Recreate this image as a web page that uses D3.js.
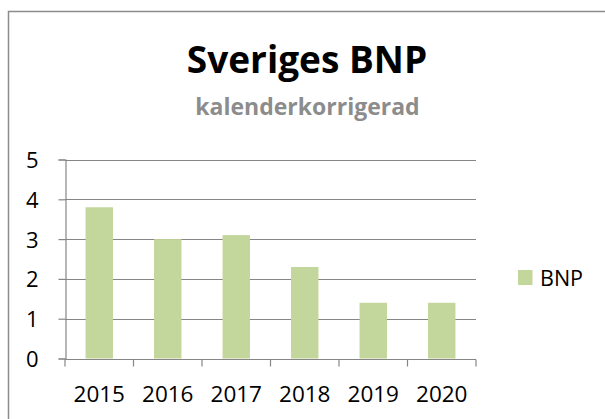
<!DOCTYPE html>
<html>
<head>
<meta charset="utf-8">
<script src="https://cdn.jsdelivr.net/npm/d3@7"></script>
<style>
  body { margin: 0; background: #fff; }
  text { font-family: "Open Sans", sans-serif; }
</style>
</head>
<body>
<div id="chart"></div>
<script>
// data
const years = ['2015', '2016', '2017', '2018', '2019', '2020']
const bnp = [3.8, 3.0, 3.1, 2.3, 1.4, 1.4]
const yTicks = [0, 1, 2, 3, 4, 5]
const seriesName = 'BNP'

const width = 605
const height = 419
const plot = { left: 65, right: 476, top: 159.5, bottom: 358.5 }
const gray = '#868686'
const barColor = '#c3d69b'

const svg = d3.select('#chart')
    .append('svg')
        .attr('width', width)
        .attr('height', height)

// outer chart frame (runs off the right and bottom edges)
svg.append('rect')
    .attr('x', 8.5)
    .attr('y', 11.5)
    .attr('width', 620)
    .attr('height', 430)
    .attr('fill', '#fff')
    .attr('stroke', '#8c8c8c')
    .attr('stroke-width', 1.5)

svg.append('text')
    .attr('x', 307)
    .attr('y', 73)
    .attr('text-anchor', 'middle')
    .style('font-weight', 'bold')
    .style('font-size', '37px')
    .text('Sveriges BNP')

svg.append('text')
    .attr('x', 307.5)
    .attr('y', 115)
    .attr('text-anchor', 'middle')
    .style('font-weight', 'bold')
    .style('font-size', '23px')
    .attr('fill', '#8c8c8c')
    .text('kalenderkorrigerad')

const x = d3.scaleBand()
    .domain(years)
    .range([plot.left, plot.right])
    .paddingInner(0.6)
    .paddingOuter(0.3)

const xTicks = d3.scaleBand()
    .domain(years)
    .range([plot.left, plot.right])

const y = d3.scaleLinear()
    .domain([0, 5])
    .range([plot.bottom, plot.top])

// gridlines
svg.append('g')
    .selectAll('line')
    .data(yTicks.slice(1))
    .join('line')
        .attr('x1', plot.left)
        .attr('x2', plot.right)
        .attr('y1', d => Math.round(y(d)) + 0.5)
        .attr('y2', d => Math.round(y(d)) + 0.5)
        .attr('stroke', gray)
        .attr('stroke-width', 1.2)

// bars
svg.append('g')
    .selectAll('rect')
    .data(bnp)
    .join('rect')
        .attr('x', (d, i) => x(years[i]))
        .attr('width', x.bandwidth())
        .attr('y', d => y(d))
        .attr('height', d => y(0) - y(d))
        .attr('fill', barColor)

// y axis
const yAxis = svg.append('g')
    .attr('transform', 'translate(' + (plot.left + 0.5) + ',0)')
    .call(d3.axisLeft(y).tickValues(yTicks).tickSize(7).tickPadding(20).tickFormat(d3.format('d')))
yAxis.select('.domain').attr('stroke', gray).attr('stroke-width', 1.2)
yAxis.selectAll('.tick line').attr('stroke', gray).attr('stroke-width', 1.2)
yAxis.selectAll('.tick text')
    .style('font-family', '"Open Sans", sans-serif')
    .style('font-size', '22px')
    .attr('fill', '#000')
    .attr('dy', '0.36em')

// x axis: ticks sit at the band edges, labels at the centres
const xAxis = svg.append('g')
    .attr('transform', 'translate(0,' + (Math.round(plot.bottom) + 0.5) + ')')
xAxis.append('line')
    .attr('x1', plot.left)
    .attr('x2', plot.right)
    .attr('stroke', gray)
    .attr('stroke-width', 1.2)
xAxis.selectAll('line.tick')
    .data(years.concat(['end']))
    .join('line')
        .attr('class', 'tick')
        .attr('x1', (d, i) => i < years.length ? xTicks(d) : plot.right)
        .attr('x2', (d, i) => i < years.length ? xTicks(d) : plot.right)
        .attr('y1', 0)
        .attr('y2', 7)
        .attr('stroke', gray)
        .attr('stroke-width', 1.2)
xAxis.selectAll('text')
    .data(years)
    .join('text')
        .attr('x', d => xTicks(d) + xTicks.bandwidth() / 2)
        .attr('y', 42)
        .attr('text-anchor', 'middle')
        .style('font-size', '22.5px')
        .text(d => d)

// legend
const legend = svg.append('g').attr('transform', 'translate(518,270)')
legend.append('rect')
    .attr('width', 14.5)
    .attr('height', 15)
    .attr('fill', barColor)
legend.append('text')
    .attr('x', 22)
    .attr('y', 15.5)
    .style('font-size', '21.5px')
    .text(seriesName)
</script>
</body>
</html>
